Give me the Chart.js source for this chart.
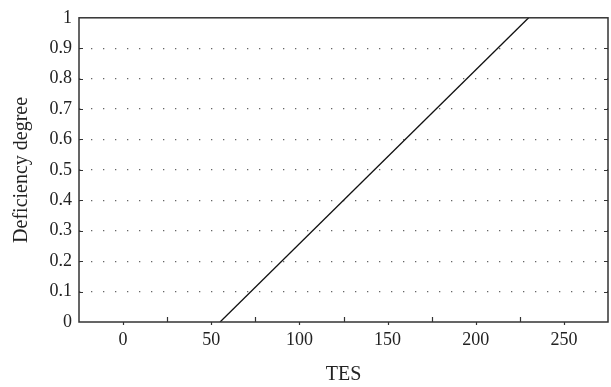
<!DOCTYPE html>
<html>
<head>
<meta charset="utf-8">
<script src="https://cdn.jsdelivr.net/npm/chart.js@4.4.1/dist/chart.umd.min.js"></script>
<style>
  html, body { margin: 0; padding: 0; background: #fff; }
  #wrap { width: 611px; height: 387px; }
</style>
</head>
<body>
<div id="wrap"><canvas id="chart" width="611" height="387"></canvas></div>
<script>
// membership line: TES vs deficiency degree
const tesValues = [55, 230];
const degreeValues = [0, 1];

const xTicks = [0, 25, 50, 75, 100, 125, 150, 175, 200, 225, 250];
const xLabelTicks = [0, 50, 100, 150, 200, 250];
const yTicks = [0, 0.1, 0.2, 0.3, 0.4, 0.5, 0.6, 0.7, 0.8, 0.9, 1];

const FONT = '"Liberation Serif", "DejaVu Serif", serif';
const INK = '#333';

// box around the plot plus the small tick marks on each side
const framePlugin = {
    id: 'frame',
    afterDraw(chart) {
        const { ctx, chartArea: a, scales } = chart;
        ctx.save();
        ctx.strokeStyle = INK;
        ctx.lineWidth = 1.5;
        ctx.strokeRect(a.left, a.top, a.right - a.left, a.bottom - a.top);
        ctx.lineWidth = 1.2;
        ctx.beginPath();
        xTicks.forEach(v => {
            const px = Math.round(scales.x.getPixelForValue(v)) + 0.5;
            if (xLabelTicks.includes(v)) {
                ctx.moveTo(px, a.bottom);
                ctx.lineTo(px, a.bottom + 3);
            } else {
                ctx.moveTo(px, a.bottom);
                ctx.lineTo(px, a.bottom - 5);
            }
        });
        yTicks.slice(1, -1).forEach(v => {
            const py = Math.round(scales.y.getPixelForValue(v)) + 0.5;
            ctx.moveTo(a.left, py);
            ctx.lineTo(a.left + 4, py);
            ctx.moveTo(a.right, py);
            ctx.lineTo(a.right - 4, py);
        });
        ctx.stroke();
        ctx.restore();
    }
};

new Chart(document.getElementById('chart'), {
    type: 'scatter',
    data: {
        datasets: [{
            data: tesValues.map((x, i) => ({ x, y: degreeValues[i] })),
            showLine: true,
            borderColor: '#111',
            borderWidth: 1.3,
            pointRadius: 0,
            fill: false
        }]
    },
    options: {
        responsive: false,
        animation: false,
        layout: { padding: { top: 12, right: 3, left: 0, bottom: 0 } },
        plugins: { legend: { display: false }, tooltip: { enabled: false } },
        scales: {
            x: {
                type: 'linear',
                min: -25,
                max: 275,
                afterBuildTicks: (scale) => { scale.ticks = xLabelTicks.map(v => ({ value: v })); },
                afterFit: (scale) => { scale.height = 65; },
                grid: { display: false, drawTicks: false },
                border: { display: false },
                ticks: {
                    color: '#222',
                    padding: 7,
                    maxRotation: 0,
                    font: { family: FONT, size: 18 }
                },
                title: {
                    display: true,
                    text: 'TES',
                    color: '#222',
                    padding: { top: 0, bottom: 0 },
                    font: { family: FONT, size: 20 }
                }
            },
            y: {
                min: 0,
                max: 1,
                afterBuildTicks: (scale) => { scale.ticks = yTicks.map(v => ({ value: v })); },
                afterFit: (scale) => { scale.width = 79; },
                grid: {
                    drawTicks: false,
                    color: (c) => (c.tick.value > 0 && c.tick.value < 1) ? '#666' : 'rgba(0,0,0,0)',
                    lineWidth: 1.3
                },
                border: { display: false, dash: [1.3, 10.7] },
                ticks: {
                    color: '#222',
                    padding: 7,
                    font: { family: FONT, size: 18 },
                    callback: (v) => String(Math.round(v * 10) / 10)
                },
                title: {
                    display: true,
                    text: 'Deficiency degree',
                    color: '#222',
                    padding: { top: 10, bottom: 0 },
                    font: { family: FONT, size: 20 }
                }
            }
        }
    },
    plugins: [framePlugin]
});
</script>
</body>
</html>
